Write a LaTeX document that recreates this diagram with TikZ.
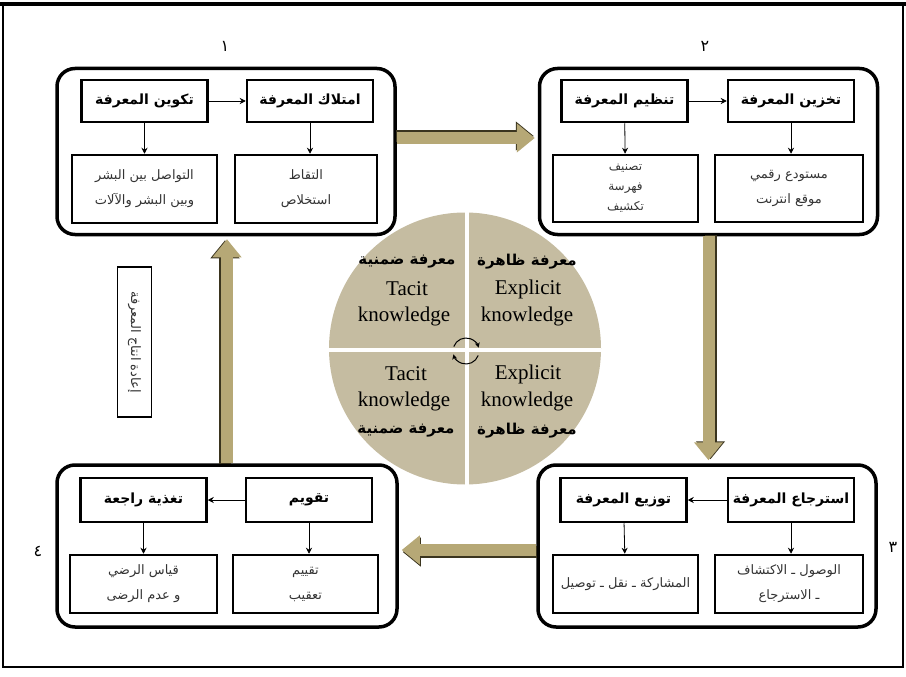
\documentclass[tikz,border=0pt]{standalone}
\usepackage{fontspec}
\setmainfont{Liberation Serif}
\newfontfamily\arabicfont[Script=Arabic]{DejaVu Sans}
\TeXXeTstate=1
\usetikzlibrary{arrows.meta,calc}

% right-to-left line
\newcommand\rl[1]{\beginR #1\endR}

\definecolor{khaki}{RGB}{182,168,118}
\definecolor{khakidark}{RGB}{58,52,30}
\definecolor{discfill}{RGB}{197,188,161}

\begin{document}
\begin{tikzpicture}[x=1pt,y=-1pt,
  stage/.style={draw,line width=3.5pt,rounded corners=18pt,inner sep=0pt,
    minimum width=338pt,minimum height=166pt},
  head/.style={draw,line width=2.5pt,inner sep=0pt,minimum width=126pt,minimum height=42pt,
    font=\arabicfont\bfseries\fontsize{14}{16}\selectfont},
  item/.style={draw,line width=2.5pt,inner sep=0pt,minimum width=145pt,align=center,
    text=black!80,font=\arabicfont\fontsize{13}{25}\selectfont},
  smallarrow/.style={-{Stealth[length=6pt,width=6pt]},line width=0.8pt},
  bigarrow/.style={line width=12pt,-{Triangle[length=18pt,width=28pt]},
    shorten >=3pt},
  numlabel/.style={font=\arabicfont\fontsize{16}{18}\selectfont},
  artitle/.style={font=\arabicfont\bfseries\fontsize{15}{18}\selectfont},
  entitle/.style={font=\fontsize{21}{24}\selectfont},
]
\useasboundingbox (0,0) rectangle (906,677);

% outer frame
\draw[line width=2.5pt] (3,4) rectangle (903,667);
\draw[line width=4pt] (0,4) -- (906,4);

% central disc with its four quadrants
\node[circle,fill=discfill,minimum size=272pt,inner sep=0pt] (disc) at (465,348.5) {};
\draw[white,line width=4pt] ([xshift=2pt]disc.north) -- ([xshift=2pt]disc.south);
\draw[white,line width=4pt] ([yshift=-1.5pt]disc.west) -- ([yshift=-1.5pt]disc.east);

\node[artitle] (tlA) at (407,262) {\rl{معرفة ضمنية}};
\node[entitle] (tlB) at (407,289) {Tacit};
\node[entitle] (tlC) at (404,316) {knowledge};
\node[artitle] (trA) at (527,262) {\rl{معرفة ظاهرة}};
\node[entitle] (trB) at (528,289) {Explicit};
\node[entitle] (trC) at (527,316) {knowledge};
\node[entitle] (blB) at (406,374) {Tacit};
\node[entitle] (blC) at (404,401) {knowledge};
\node[artitle] (blA) at (406,431) {\rl{معرفة ضمنية}};
\node[entitle] (brB) at (528,374) {Explicit};
\node[entitle] (brC) at (527,401) {knowledge};
\node[artitle] (brA) at (527,431) {\rl{معرفة ظاهرة}};

% small cycle in the middle
\coordinate (cc) at (466,351);
\draw[line width=1pt,-{Stealth[length=5pt,width=5pt]}]
  ([shift={(160:13pt)}]cc) arc[start angle=160,end angle=15,radius=13pt];
\draw[line width=1pt,-{Stealth[length=5pt,width=5pt]}]
  ([shift={(-20:13pt)}]cc) arc[start angle=-20,end angle=-165,radius=13pt];

% ---- stage 1 ----
\node[stage] (s1) at (226,151.5) {};
\node[head] (b1a) at (144.5,101) {\rl{تكوين المعرفة}};
\node[head] (b1b) at (310,101) {\rl{امتلاك المعرفة}};
\node[item,minimum height=68pt] (b1c) at (144.5,189)
  {\rl{التواصل بين البشر}\\\rl{وبين البشر والآلات}};
\node[item,minimum height=68pt,minimum width=142pt] (b1d) at (306,189)
  {\rl{التقاط}\\\rl{استخلاص}};
\draw[smallarrow] (b1a) -- (b1b);
\draw[smallarrow] (b1a) -- (b1c);
\draw[smallarrow] (b1b.south) -- (b1b.south |- b1d.north);

% ---- stage 2 ----
\node[stage] (s2) at (708.5,151.5) {};
\node[head] (b2a) at (624.5,101) {\rl{تنظيم المعرفة}};
\node[head] (b2b) at (791,101) {\rl{تخزين المعرفة}};
\node[item,minimum height=67pt,font=\arabicfont\fontsize{12}{20}\selectfont] (b2c) at (625.5,188.5)
  {\rl{تصنيف}\\\rl{فهرسة}\\\rl{تكشيف}};
\node[item,minimum height=67pt,minimum width=148pt] (b2d) at (789,188.5)
  {\rl{مستودع رقمي}\\\rl{موقع انترنت}};
\draw[smallarrow] (b2a) -- (b2b);
\draw[smallarrow] (b2a) -- (b2c);
\draw[smallarrow] (b2b.south) -- (b2b.south |- b2d.north);

% ---- stage 3 ----
\node[stage,minimum height=162pt] (s3) at (707,546) {};
\node[head,minimum height=44pt] (b3a) at (623.5,500) {\rl{توزيع المعرفة}};
\node[head,minimum height=44pt] (b3b) at (791,500) {\rl{استرجاع المعرفة}};
\node[item,minimum height=58pt] (b3c) at (625.5,584)
  {\rl{المشاركة ـ نقل ـ توصيل}};
\node[item,minimum height=58pt,minimum width=148pt] (b3d) at (789,584)
  {\rl{الوصول ـ الاكتشاف}\\\rl{ـ الاسترجاع}};
\draw[smallarrow] (b3b) -- (b3a);
\draw[smallarrow] (b3a) -- (b3c);
\draw[smallarrow] (b3b.south) -- (b3b.south |- b3d.north);

% ---- stage 4 ----
\node[stage,minimum height=162pt,minimum width=340pt] (s4) at (227,546) {};
\node[head,minimum height=44pt] (b4a) at (143.5,500) {\rl{تغذية راجعة}};
\node[head,minimum height=44pt] (b4b) at (309,500) {\rl{تقويم}};
\node[item,minimum height=58pt,minimum width=147pt] (b4c) at (143.5,584)
  {\rl{قياس الرضي}\\\rl{و عدم الرضى}};
\node[item,minimum height=58pt] (b4d) at (305.5,584)
  {\rl{تقييم}\\\rl{تعقيب}};
\draw[smallarrow] (b4b) -- (b4a);
\draw[smallarrow] (b4a) -- (b4c);
\draw[smallarrow] (b4b.south) -- (b4b.south |- b4d.north);

% stage numbers
\node[numlabel] (n1) at (225,46) {\rl{١}};
\node[numlabel] (n2) at (705,46) {\rl{٢}};
\node[numlabel] (n3) at (893,547) {\rl{٣}};
\node[numlabel] (n4) at (38,551) {\rl{٤}};

% side label
\node[draw,line width=1.5pt,rotate=-90,minimum width=150pt,minimum height=34pt,inner sep=0pt,
  text=black!80,font=\arabicfont\fontsize{13}{15}\selectfont] (reprod) at (134.5,342)
  {\rl{إعادة انتاج المعرفة}};

% big arrows between the stages (dark edge first, then the khaki body)
\draw[bigarrow,draw=khakidark,transform canvas={shift={(-1pt,2pt)}}]
  ([yshift=13.5pt]s1.east) -- ([yshift=13.5pt]s2.west);
\draw[bigarrow,draw=khaki] ([yshift=13.5pt]s1.east) -- ([yshift=13.5pt]s2.west);

\draw[bigarrow,draw=khakidark,transform canvas={shift={(2pt,1pt)}}]
  (s2.south) -- (s2.south |- s3.north);
\draw[bigarrow,draw=khaki] (s2.south) -- (s2.south |- s3.north);

\draw[bigarrow,draw=khakidark,transform canvas={shift={(1pt,-2pt)}}]
  ([yshift=-4pt]s3.west) -- ([yshift=-4pt]s3.west -| s4.east);
\draw[bigarrow,draw=khaki] ([yshift=-4pt]s3.west) -- ([yshift=-4pt]s3.west -| s4.east);

\draw[bigarrow,draw=khakidark,transform canvas={shift={(-2pt,-1pt)}}]
  (s4.north) -- (s4.north |- s1.south);
\draw[bigarrow,draw=khaki] (s4.north) -- (s4.north |- s1.south);
\end{tikzpicture}
\end{document}
